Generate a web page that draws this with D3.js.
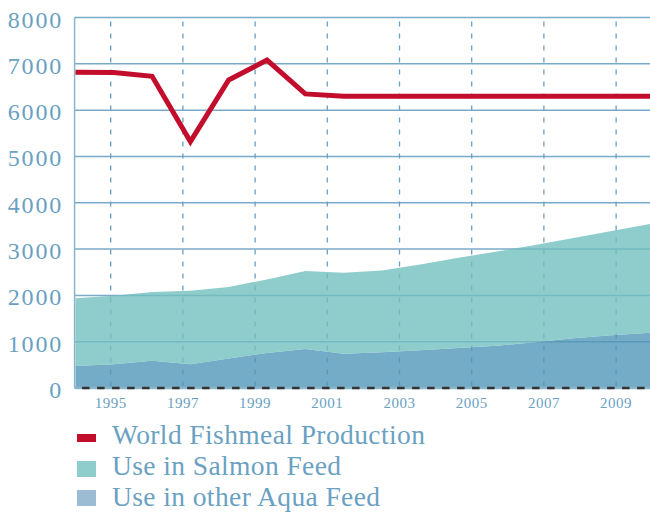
<!DOCTYPE html>
<html>
<head>
<meta charset="utf-8">
<script src="https://cdn.jsdelivr.net/npm/d3@7"></script>
<style>
  html, body { margin: 0; padding: 0; background: #fff; }
  svg { display: block; }
  text { font-family: "Liberation Serif", "DejaVu Serif", serif; }
</style>
</head>
<body>
<svg id="chart" width="650" height="513"></svg>
<script>
// ---- data ----
const years = [1994, 1995, 1996, 1997, 1998, 1999, 2000, 2001, 2002, 2003, 2004, 2005, 2006, 2007, 2008, 2009];
const worldFishmealProduction = [6820, 6810, 6730, 5320, 6650, 7080, 6350, 6300, 6300, 6300, 6300, 6300, 6300, 6300, 6300, 6300];
const useInOtherAquaFeed = [475, 512, 590, 512, 637, 756, 842, 738, 771, 814, 864, 914, 987, 1073, 1138, 1194];
const useInSalmonFeed = [1465, 1478, 1483, 1588, 1543, 1589, 1685, 1748, 1767, 1853, 1946, 2034, 2101, 2165, 2253, 2348];
const yTicks = [0, 1000, 2000, 3000, 4000, 5000, 6000, 7000, 8000];
const xTickYears = [1995, 1997, 1999, 2001, 2003, 2005, 2007, 2009];
const seriesNames = ["World Fishmeal Production", "Use in Salmon Feed", "Use in other Aqua Feed"];

(function () {
// ---- style ----
const colors = { red: "#c20d2c", teal: "#73bfbf", blue: "#5196b8", grid: "#7aaac8", text: "#6aa1c2",
                 legendTeal: "#8fcccc", legendBlue: "#9bbcd3" };

const svg = d3.select("#chart");
const plotLeft = 74.6, plotTop = 17.5, plotBottom = 388;

const x = d3.scaleLinear().domain([1994, 2009]).range([75.5, 650]);
const xGrid = d3.scaleLinear().domain([1994, 2010]).range([plotLeft, 652.2]);
const y = d3.scaleLinear().domain([0, 8000]).range([plotBottom, plotTop]);

// gridlines horizontal
svg.append("g").selectAll("line").data(yTicks.filter(d => d > 0)).join("line")
  .attr("x1", plotLeft).attr("x2", 650)
  .attr("y1", d => y(d)).attr("y2", d => y(d))
  .attr("stroke", colors.grid).attr("stroke-width", 1.5);

// vertical dashed lines
svg.append("g").selectAll("line").data(xTickYears).join("line")
  .attr("x1", d => xGrid(d)).attr("x2", d => xGrid(d))
  .attr("y1", plotTop).attr("y2", plotBottom)
  .attr("stroke", "#6a9fc0").attr("stroke-width", 1.3)
  .attr("stroke-dasharray", "5,7").attr("stroke-dashoffset", -4);

// stacked areas
const stackData = years.map((yr, i) => ({ year: yr, other: useInOtherAquaFeed[i], salmon: useInSalmonFeed[i] }));
const stack = d3.stack().keys(["other", "salmon"]);
const layers = stack(stackData);
const area = d3.area()
  .x(d => x(d.data.year))
  .y0(d => y(d[0]))
  .y1(d => y(d[1]));
svg.append("g").selectAll("path").data(layers).join("path")
  .attr("d", area)
  .attr("fill", d => d.key === "salmon" ? colors.teal : colors.blue)
  .attr("fill-opacity", 0.8);

// left axis line
svg.append("line").attr("x1", plotLeft).attr("x2", plotLeft).attr("y1", plotTop).attr("y2", plotBottom)
  .attr("stroke", "#8ab6cc").attr("stroke-width", 1.5);

// bottom axis: light line + dark dashes
svg.append("line").attr("x1", plotLeft).attr("x2", 650).attr("y1", plotBottom).attr("y2", plotBottom)
  .attr("stroke", "#8ab6cc").attr("stroke-width", 2.5);
svg.append("line").attr("x1", plotLeft).attr("x2", 650).attr("y1", plotBottom).attr("y2", plotBottom)
  .attr("stroke", "#333").attr("stroke-width", 2.5)
  .attr("stroke-dasharray", "7.5,7.5").attr("stroke-dashoffset", 7.5);

// production line
const line = d3.line().x((d, i) => x(years[i])).y(d => y(d));
svg.append("path").datum(worldFishmealProduction)
  .attr("d", line).attr("fill", "none")
  .attr("stroke", colors.red).attr("stroke-width", 5)
  .attr("stroke-linejoin", "miter");

// y labels
svg.append("g").selectAll("text").data(yTicks).join("text")
  .attr("x", 63).attr("y", d => y(d) + 10)
  .attr("text-anchor", "end")
  .attr("font-size", 24).attr("letter-spacing", 1.8)
  .attr("fill", colors.text)
  .text(d => d);

// x labels
svg.append("g").selectAll("text").data(xTickYears).join("text")
  .attr("x", d => xGrid(d)).attr("y", 408)
  .attr("text-anchor", "middle")
  .attr("font-size", 15).attr("letter-spacing", 0.5)
  .attr("fill", colors.text)
  .text(d => d);

// legend
const legend = svg.append("g");
const lg = [
  { name: seriesNames[0], color: colors.red, h: 8, y0: 434 },
  { name: seriesNames[1], color: colors.legendTeal, h: 16, y0: 461 },
  { name: seriesNames[2], color: colors.legendBlue, h: 16, y0: 490 }
];
const baselines = [444.3, 475, 506];
legend.selectAll("rect").data(lg).join("rect")
  .attr("x", 77).attr("width", 19)
  .attr("y", d => d.y0).attr("height", d => d.h)
  .attr("fill", d => d.color);
legend.selectAll("text").data(lg).join("text")
  .attr("x", 112).attr("y", (d, i) => baselines[i])
  .attr("font-size", 27.5).attr("letter-spacing", 0.4)
  .attr("fill", colors.text)
  .text(d => d.name);
})();
</script>
</body>
</html>
